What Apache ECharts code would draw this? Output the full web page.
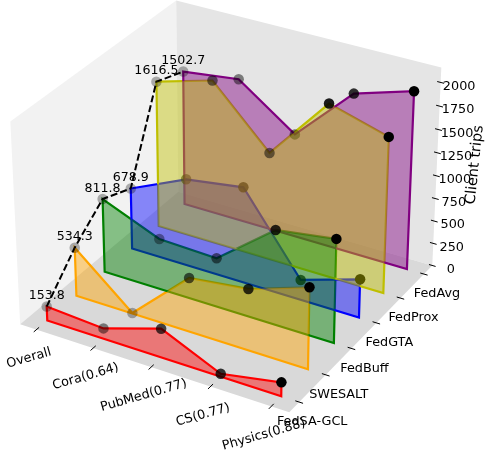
<!DOCTYPE html>
<html>
<head>
<meta charset="utf-8">
<script src="https://cdn.jsdelivr.net/npm/echarts@6/dist/echarts.min.js"></script>
<style>
html, body { margin: 0; padding: 0; background: #fff; }
#main { width: 485px; height: 459px; }
</style>
</head>
<body>
<div id="main"></div>
<script>
var datasets = ['Overall', 'Cora(0.64)', 'PubMed(0.77)', 'CS(0.77)', 'Physics(0.88)'];
var methods = ['FedSA-GCL', 'SWESALT', 'FedBuff', 'FedGTA', 'FedProx', 'FedAvg'];
var zTicks = [0, 250, 500, 750, 1000, 1250, 1500, 1750, 2000];

var fedSaGcl = [153.8, 114, 314, 31, 150];
var swesalt = [534.3, 5, 587, 665, 878];
var fedBuff = [811.8, 557, 535, 1029, 1122];
var fedGta = [678.9, 959, 1051, 221, 423];
var fedProx = [1616.5, 1792, 1179, 1877, 1696];
var fedAvg = [1502.7, 1581, 1143, 1753, 1943];

var allValues = [fedSaGcl, swesalt, fedBuff, fedGta, fedProx, fedAvg];
var colors = ['#ff0000', '#ffa500', '#008000', '#0000ff', '#bfbf00', '#800080'];
// paint order of the fills, matplotlib sorts them by nearest corner
var fillOrder = [3, 5, 4, 2, 1, 0];

// limits of the 3d box, same margins matplotlib would give
var xLim = [-0.2917, 4.2917];
var yLim = [-0.3646, 5.3646];
var zLim = [0, 2155];
var boxX = 1.1905, boxY = 1.1905, boxZ = 0.8929;

// elev 30, azim -60, dist 10
function project(x, y, z) {
	var bx = ((x - xLim[0]) / (xLim[1] - xLim[0]) - 0.5) * boxX;
	var by = ((y - yLim[0]) / (yLim[1] - yLim[0]) - 0.5) * boxY;
	var bz = ((z - zLim[0]) / (zLim[1] - zLim[0]) - 0.5) * boxZ;
	var depth = 0.433 * bx - 0.75 * by + 0.5 * bz;
	var w = 10 - depth;
	return [(0.866 * bx + 0.5 * by) / w, (-0.25 * bx + 0.433 * by + 0.866 * bz) / w, depth];
}

function polygonSeries(points, fill, stroke, width, z) {
	return {
		type : 'custom',
		coordinateSystem : 'cartesian2d',
		z : z,
		silent : true,
		data : [ 0 ],
		renderItem : function(params, api) {
			return {
				type : 'polygon',
				shape : {
					points : points.map(function(p) {
						return api.coord([ p[0], p[1] ]);
					})
				},
				style : {
					fill : fill,
					stroke : stroke,
					lineWidth : width
				}
			};
		}
	};
}

function tickSeries(segments) {
	return {
		type : 'custom',
		coordinateSystem : 'cartesian2d',
		z : 3,
		silent : true,
		data : segments.map(function(s, i) {
			return i;
		}),
		renderItem : function(params, api) {
			var s = segments[params.dataIndex];
			var a = api.coord([ s[0][0], s[0][1] ]);
			var b = api.coord([ s[1][0], s[1][1] ]);
			return {
				type : 'line',
				shape : {
					x1 : a[0],
					y1 : a[1],
					x2 : b[0],
					y2 : b[1]
				},
				style : {
					stroke : '#000',
					lineWidth : 1
				}
			};
		}
	};
}

// items: text, anchor point in projected units, pixel offset, rotation in degrees
function textSeries(items, z) {
	return {
		type : 'custom',
		coordinateSystem : 'cartesian2d',
		z : z,
		silent : true,
		data : items.map(function(t, i) {
			return i;
		}),
		renderItem : function(params, api) {
			var t = items[params.dataIndex];
			var c = api.coord([ t.at[0], t.at[1] ]);
			return {
				type : 'text',
				x : c[0] + t.dx,
				y : c[1] + t.dy,
				rotation : (t.rot || 0) * Math.PI / 180,
				style : {
					text : t.text,
					fill : '#000',
					font : t.size + 'px "DejaVu Sans"',
					align : 'center',
					verticalAlign : 'middle'
				}
			};
		}
	};
}

function outline(m) {
	var pts = allValues[m].map(function(v, i) {
		return project(i, m, v);
	});
	pts.push(project(datasets.length - 1, m, 0));
	pts.push(project(0, m, 0));
	return pts;
}

var series = [];

// panes
series.push(polygonSeries([ project(xLim[0], yLim[0], zLim[0]), project(xLim[0], yLim[1], zLim[0]),
		project(xLim[0], yLim[1], zLim[1]), project(xLim[0], yLim[0], zLim[1]) ], '#f2f2f2', 'none', 0, 1));
series.push(polygonSeries([ project(xLim[0], yLim[1], zLim[0]), project(xLim[1], yLim[1], zLim[0]),
		project(xLim[1], yLim[1], zLim[1]), project(xLim[0], yLim[1], zLim[1]) ], '#e5e5e5', 'none', 0, 1));
series.push(polygonSeries([ project(xLim[0], yLim[0], zLim[0]), project(xLim[1], yLim[0], zLim[0]),
		project(xLim[1], yLim[1], zLim[0]), project(xLim[0], yLim[1], zLim[0]) ], '#d9d9d9', 'none', 0, 1));

// ticks
series.push(tickSeries(datasets.map(function(d, i) {
	return [ project(i, yLim[0] - 0.09, 0), project(i, yLim[0] + 0.09, 0) ];
}).concat(methods.map(function(m, i) {
	return [ project(xLim[1] - 0.063, i, 0), project(xLim[1] + 0.063, i, 0) ];
})).concat(zTicks.map(function(v) {
	return [ project(xLim[1] - 0.057, yLim[1], v), project(xLim[1] + 0.057, yLim[1], v) ];
}))));

// outlines go under every fill, the fills tint them
allValues.forEach(function(values, m) {
	series.push(polygonSeries(outline(m), 'none', colors[m], 2.2, 5));
});

// dashed line through the Overall values
series.push({
	type : 'line',
	z : 8,
	silent : true,
	symbol : 'none',
	lineStyle : {
		color : '#000',
		width : 2,
		type : [ 7, 3 ]
	},
	data : allValues.map(function(values, m) {
		var p = project(0, m, values[0]);
		return [ p[0], p[1] ];
	})
});

// each fill, then its dots so later fills tint them
fillOrder.forEach(function(m, n) {
	var values = allValues[m];
	series.push(polygonSeries(outline(m), echarts.color.modifyAlpha(colors[m], 0.45), 'none', 0, 10 + n * 2));

	// dots fade with depth, one scale per method
	var depths = values.map(function(v, i) {
		return project(i, m, v)[2];
	});
	var lo = Math.min.apply(null, depths), hi = Math.max.apply(null, depths);
	series.push({
		type : 'scatter',
		z : 11 + n * 2,
		silent : true,
		symbolSize : 10.5,
		data : values.map(function(v, i) {
			var p = project(i, m, v);
			return {
				value : [ p[0], p[1] ],
				itemStyle : {
					color : '#000',
					opacity : 0.3 + 0.7 * (p[2] - lo) / (hi - lo)
				}
			};
		})
	});
});

var labels = [];
allValues.forEach(function(values, m) {
	labels.push({
		text : String(values[0]),
		at : project(0, m, values[0]),
		dx : 0,
		dy : -10.5,
		size : 12.6
	});
});
datasets.forEach(function(d, i) {
	labels.push({
		text : d,
		at : project(i, yLim[0], 0),
		dx : -7.5,
		dy : 28.5,
		rot : 16,
		size : 12.8
	});
});
methods.forEach(function(d, i) {
	labels.push({
		text : d,
		at : project(xLim[1], i, 0),
		dx : 13,
		dy : 20,
		size : 12.8
	});
});
zTicks.forEach(function(v) {
	labels.push({
		text : String(v),
		at : project(xLim[1], yLim[1], v),
		dx : 18.5,
		dy : 4,
		size : 12.8
	});
});
labels.push({
	text : 'Client trips',
	at : project(xLim[1], yLim[1], 1000),
	dx : 38.5,
	dy : -11,
	rot : 84,
	size : 14.6
});
series.push(textSeries(labels, 40));

var chart = echarts.init(document.getElementById('main'), null, {
	renderer : 'canvas'
});
chart.setOption({
	animation : false,
	backgroundColor : '#fff',
	grid : {
		left : 0,
		right : 0,
		top : 0,
		bottom : 0
	},
	// canvas fit of the projected box
	xAxis : {
		type : 'value',
		show : false,
		min : -230 / 2590,
		max : 255 / 2590
	},
	yAxis : {
		type : 'value',
		show : false,
		min : -262.6 / 2590,
		max : 196.4 / 2590
	},
	series : series
});
</script>
</body>
</html>
